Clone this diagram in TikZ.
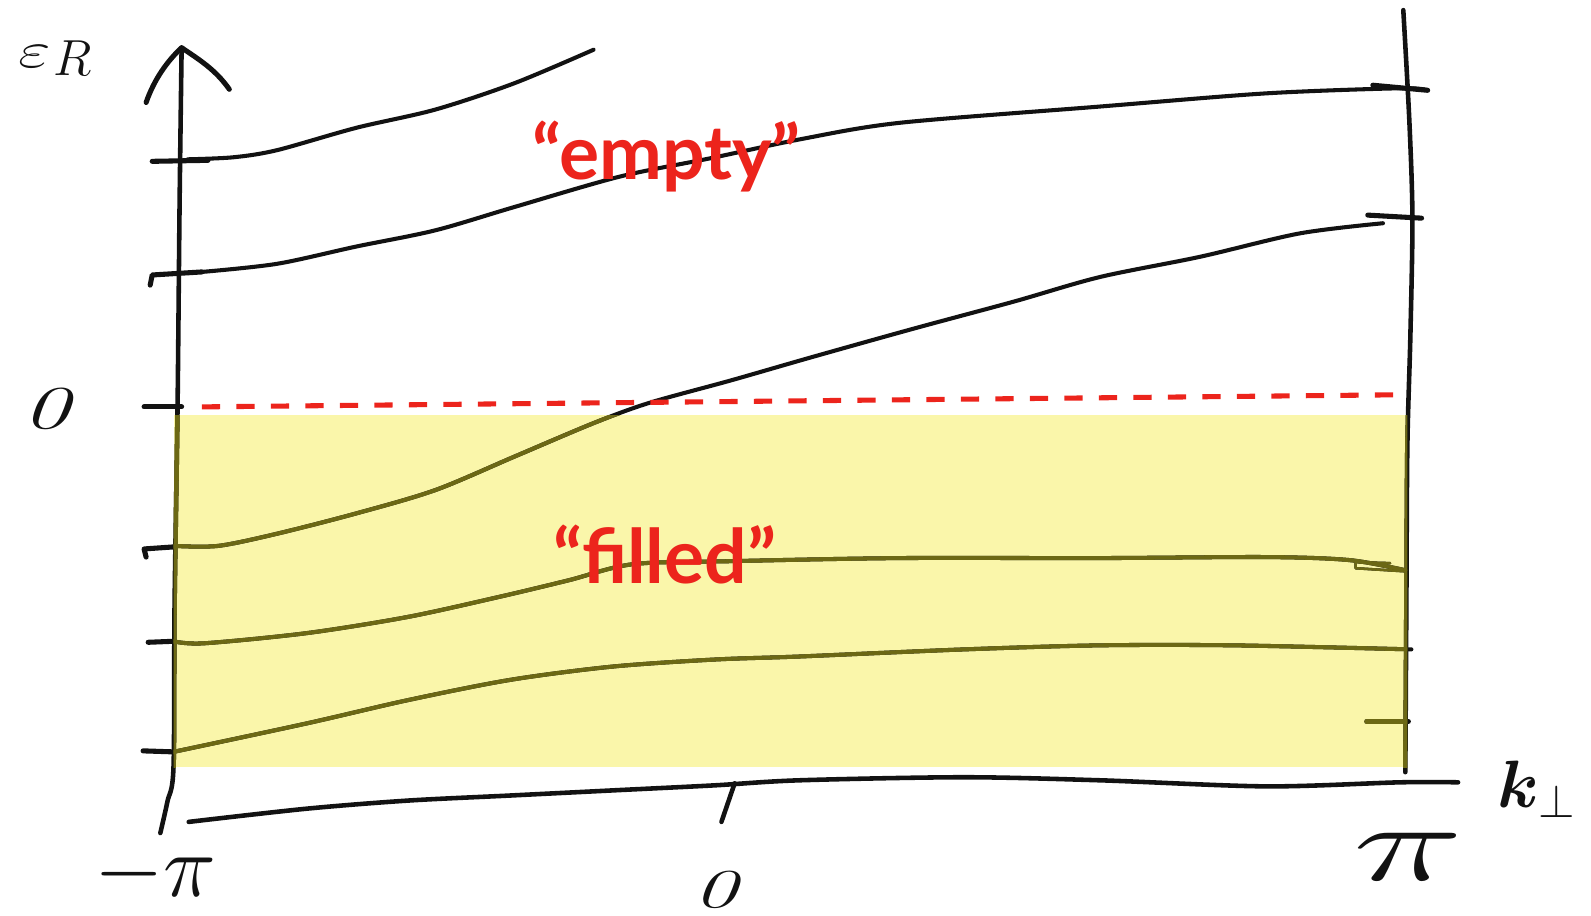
\documentclass[tikz,border=0pt]{standalone}
\usepackage{fix-cm}
\usepackage{bm}
\usepackage{fontspec}
\newfontfamily\labelfont{Lato}
\definecolor{fillyellow}{RGB}{250,246,170}
\definecolor{oliveink}{RGB}{108,104,20}
\definecolor{redink}{RGB}{236,36,28}
\definecolor{inkblack}{RGB}{18,18,18}
\newcommand\sketchlines[1]{%
  % left axis
  \draw[axisline,#1] plot[smooth] coordinates {(179,47) (177,200) (175,400) (172,600) (171,756) (165,790) (158,821)};
  % right axis
  \draw[axisline,#1] plot[smooth] coordinates {(1383,10) (1389,120) (1392,215) (1390,330) (1387,440) (1386,600) (1385,761)};
  % bottom axis
  \draw[axisline,#1] plot[smooth] coordinates {(186,810) (302,797) (402,789) (503,784) (603,779) (704,774) (788,769) (950,766) (1084,769) (1248,775) (1380,771) (1437,771)};
  \draw[axisline,#1] (724,772) -- (711,810);
  % left ticks
  \draw[tickline,#1] (150,159) -- (205,158);
  \draw[tickline,#1] (148,281) -- (150,271) -- (199,268);
  \draw[tickline,#1] (142,401) -- (179,401);
  \draw[tickline,#1] (144,549) -- (142,541) -- (171,539);
  \draw[tickline,#1] (146,633) -- (171,632);
  \draw[tickline,#1] (141,740) -- (171,741);
  % right ticks
  \draw[tickline,#1] (1353,84) -- (1407,89);
  \draw[tickline,#1] (1348,212) -- (1401,215);
  \draw[tickline,#1] (1347,711) -- (1388,711);
  % bands
  \draw[ink,#1] plot[smooth] coordinates {(185,157) (230,155) (273,148) (351,126) (429,108) (507,82) (585,49)};
  \draw[ink,#1] plot[smooth] coordinates {(199,268) (273,260) (351,243) (429,227) (507,204) (611,174) (700,156) (790,137) (887,121) (1084,105) (1248,92) (1380,87) (1407,89)};
  \draw[ink,#1] plot[smooth] coordinates {(172,538) (215,538) (273,526) (351,506) (429,483) (507,450) (585,417) (640,397) (720,375) (800,352) (900,324) (1000,297) (1084,273) (1183,253) (1281,230) (1363,220)};
  \draw[ink,#1] plot[smooth] coordinates {(171,632) (201,634) (302,624) (402,608) (493,588) (560,572) (624,556) (723,553) (887,550) (1084,550) (1248,549) (1330,552) (1385,562)};
  \draw[ink,#1,line width=2.5pt] (1384,563) -- (1336,560) -- (1336,554) -- (1370,555);
  \draw[ink,#1] plot[smooth] coordinates {(171,741) (302,713) (402,690) (503,670) (603,657) (704,650) (788,647) (950,640) (1084,636) (1215,636) (1391,640)};
}
\begin{document}
\begin{tikzpicture}[x=1pt,y=-1pt,
  ink/.style={line width=4pt, line cap=round, line join=round},
  axisline/.style={line width=4.5pt, line cap=round, line join=round},
  tickline/.style={line width=5pt, line cap=round, line join=round},
  redlabel/.style={text=redink, font=\labelfont\bfseries\fontsize{74}{80}\selectfont, inner sep=0pt, anchor=base},
  mathlabel/.style={inner sep=0pt, text=inkblack}
]
\useasboundingbox (0,0) rectangle (1568,902);
\fill[fillyellow] (171,409) rectangle (1387,756);
\sketchlines{inkblack}
\begin{scope}
  \clip (171,409) rectangle (1387,756);
  \sketchlines{oliveink}
\end{scope}
% arrow head of vertical axis
\draw[axisline,inkblack,line width=5pt] (144,101) .. controls (152,78) and (165,60) .. (179,47) .. controls (195,58) and (212,68) .. (226,88);
% Fermi level
\draw[redink, line width=5pt, dash pattern=on 18pt off 16pt] (199,401) -- (1385,389);
% labels
\node[redlabel] (empty) at (657,177) {“empty”};
\node[redlabel] (filled) at (655,575) {“filled”};
\node[mathlabel, anchor=base west, font=\fontsize{50}{54}\selectfont] (eps) at (18,67) {\scalebox{1.4}[1]{$\varepsilon$}\kern2pt\raisebox{-7pt}{$R$}};
\node[mathlabel, anchor=base west, font=\fontsize{66}{70}\selectfont] (kperp) at (1476,796) {$\bm{k}_\perp$};
\node[mathlabel, font=\fontsize{60}{64}\selectfont] (zeroE) at (45,403) {\scalebox{1.55}[1]{\itshape 0}};
\node[mathlabel, font=\fontsize{54}{58}\selectfont] (zeroK) at (705,877) {\scalebox{1.6}[1]{\itshape 0}};
\node[mathlabel, anchor=base, font=\fontsize{88}{92}\selectfont] (mpi) at (153,884) {$-\pi$};
\node[mathlabel, anchor=base, font=\fontsize{108}{112}\selectfont] (ppi) at (1388,868) {\scalebox{1.7}[1]{$\pi$}};
\end{tikzpicture}
\end{document}
